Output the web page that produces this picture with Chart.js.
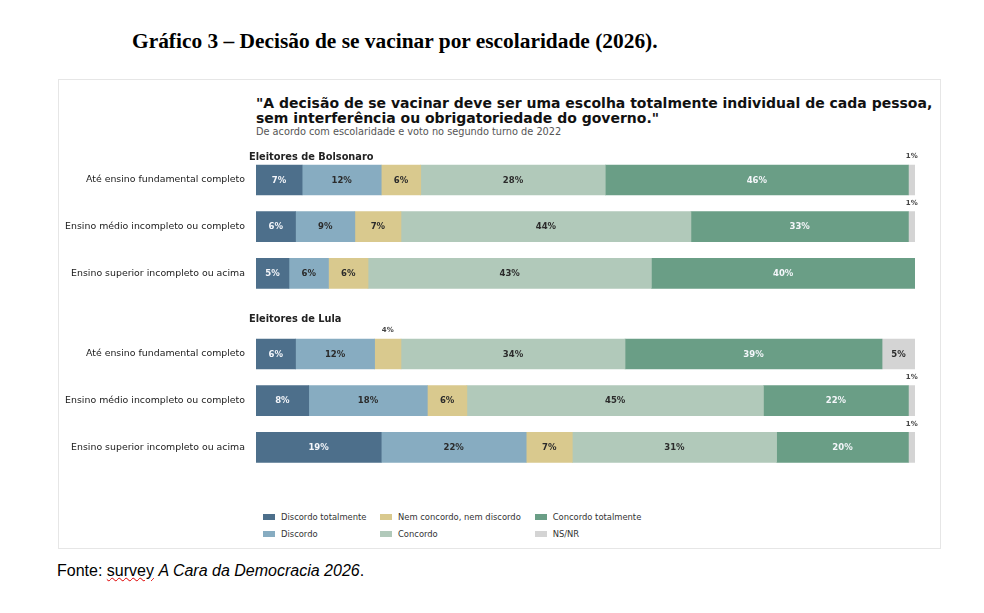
<!DOCTYPE html>
<html><head><meta charset="utf-8">
<script src="https://cdn.jsdelivr.net/npm/chart.js@4.4.1/dist/chart.umd.min.js"></script>
<style>
html,body{margin:0;padding:0;background:#fff;width:984px;height:613px;overflow:hidden;position:relative;font-family:"DejaVu Sans",sans-serif;}
.abs{position:absolute;white-space:nowrap;}
#title{left:132px;top:29px;font-family:"Liberation Serif","Times New Roman",serif;font-weight:bold;font-size:21.4px;line-height:24px;color:#000;}
#box{left:58px;top:79px;width:881px;height:468px;border:1px solid #e6e6e6;}
#q{left:256px;top:96px;font-weight:bold;font-size:14px;line-height:15px;color:#111;}
#sub{left:256px;top:125.5px;font-size:9.75px;line-height:12px;color:#555;}
.grp{font-weight:bold;font-size:9.8px;line-height:12px;color:#222;}
canvas{position:absolute;}
#foot{left:57px;top:561px;font-family:"Liberation Sans",Arial,sans-serif;font-size:16px;line-height:20px;color:#000;}
.leg{font-size:8.4px;line-height:12px;color:#333;}
.sw{position:absolute;width:12px;height:6px;}
</style></head>
<body>
<div id="title" class="abs">Gráfico 3 – Decisão de se vacinar por escolaridade (2026).</div>
<div id="box" class="abs"></div>
<div id="q" class="abs">"A decisão de se vacinar deve ser uma escolha totalmente individual de cada pessoa,<br>sem interferência ou obrigatoriedade do governo."</div>
<div id="sub" class="abs">De acordo com escolaridade e voto no segundo turno de 2022</div>
<canvas id="c1" width="870" height="150" style="left:58px;top:150px;"></canvas>
<canvas id="c2" width="870" height="150" style="left:58px;top:323.67px;"></canvas>
<div id="g1" class="abs grp" style="left:249px;top:150.5px;"></div>
<div id="g2" class="abs grp" style="left:249px;top:313px;"></div>
<div id="legend"></div>
<div id="foot" class="abs">Fonte: <span style="text-decoration:underline wavy #d00;text-decoration-thickness:1px;">survey</span> <i>A Cara da Democracia 2026</i>.</div>
<script>
const categories = ['Até ensino fundamental completo', 'Ensino médio incompleto ou completo', 'Ensino superior incompleto ou acima'];
const seriesNames = ['Discordo totalmente', 'Discordo', 'Nem concordo, nem discordo', 'Concordo', 'Concordo totalmente', 'NS/NR'];
const seriesColors = ['#4d6f8b', '#87acc1', '#d9c98e', '#b1c9ba', '#6a9e86', '#d4d4d4'];
const labelColors = ['#f4f6fa', '#2b2b2b', '#2b2b2b', '#2b2b2b', '#f4f6fa', '#2b2b2b'];
const groupTitles = ['Eleitores de Bolsonaro', 'Eleitores de Lula'];

// Eleitores de Bolsonaro (one value per category)
const bolsonaroDiscordoTotalmente = [7, 6, 5];
const bolsonaroDiscordo = [12, 9, 6];
const bolsonaroNem = [6, 7, 6];
const bolsonaroConcordo = [28, 44, 43];
const bolsonaroConcordoTotalmente = [46, 33, 40];
const bolsonaroNSNR = [1, 1, 0];

// Eleitores de Lula
const lulaDiscordoTotalmente = [6, 8, 19];
const lulaDiscordo = [12, 18, 22];
const lulaNem = [4, 6, 7];
const lulaConcordo = [34, 45, 31];
const lulaConcordoTotalmente = [39, 22, 20];
const lulaNSNR = [5, 1, 1];

const bolsonaroSeries = [bolsonaroDiscordoTotalmente, bolsonaroDiscordo, bolsonaroNem, bolsonaroConcordo, bolsonaroConcordoTotalmente, bolsonaroNSNR];
const lulaSeries = [lulaDiscordoTotalmente, lulaDiscordo, lulaNem, lulaConcordo, lulaConcordoTotalmente, lulaNSNR];

document.getElementById('g1').textContent = groupTitles[0];
document.getElementById('g2').textContent = groupTitles[1];

const barLabels = {
  id: 'barLabels',
  afterDatasetsDraw(chart) {
    const ctx = chart.ctx;
    ctx.save();
    ctx.textAlign = 'center';
    ctx.textBaseline = 'middle';
    chart.data.datasets.forEach((ds, di) => {
      const meta = chart.getDatasetMeta(di);
      meta.data.forEach((bar, i) => {
        const v = ds.data[i];
        if (!v) return;
        const p = bar.getProps(['x', 'y', 'base', 'height'], true);
        const cx = (p.x + p.base) / 2;
        if (v >= 5) {
          ctx.font = 'bold 8.5px "DejaVu Sans"';
          ctx.fillStyle = labelColors[di];
          ctx.fillText(v + '%', cx, p.y + 0.5);
        } else {
          ctx.font = 'bold 7px "DejaVu Sans"';
          ctx.fillStyle = '#444';
          ctx.fillText(v + '%', cx, p.y - p.height / 2 - 8.5);
        }
      });
    });
    ctx.restore();
  }
};

function makeChart(id, series) {
  return new Chart(document.getElementById(id), {
    type: 'bar',
    data: {
      labels: categories,
      datasets: seriesNames.map((n, k) => ({
        label: n, data: series[k], backgroundColor: seriesColors[k],
        barThickness: 30, borderWidth: 0
      }))
    },
    options: {
      indexAxis: 'y', responsive: false, animation: false,
      layout: { padding: { top: 6.67, bottom: 3.33, right: 13, left: 0 } },
      plugins: { legend: { display: false }, tooltip: { enabled: false } },
      scales: {
        x: { stacked: true, min: 0, max: 100, display: false },
        y: {
          stacked: true,
          grid: { display: false, drawTicks: false },
          border: { display: false },
          ticks: { padding: 11, color: '#1a1a1a', font: { family: 'DejaVu Sans', size: 9.4 } },
          afterFit(s) { s.width = 198; s.paddingTop = 0; s.paddingBottom = 0; }
        }
      }
    },
    plugins: [barLabels]
  });
}
makeChart('c1', bolsonaroSeries);
makeChart('c2', lulaSeries);

// legend, column-major like the reference
const swX = [263, 380, 535], txX = [281, 398, 552.7], rowY = [517, 534];
const leg = document.getElementById('legend');
seriesNames.forEach((n, k) => {
  const col = Math.floor(k / 2), row = k % 2;
  const sw = document.createElement('div');
  sw.className = 'sw';
  sw.style.left = swX[col] + 'px';
  sw.style.top = (rowY[row] - 3) + 'px';
  sw.style.background = seriesColors[k];
  leg.appendChild(sw);
  const t = document.createElement('div');
  t.className = 'abs leg';
  t.style.left = txX[col] + 'px';
  t.style.top = (rowY[row] - 6) + 'px';
  t.textContent = n;
  leg.appendChild(t);
});
</script>
</body></html>
